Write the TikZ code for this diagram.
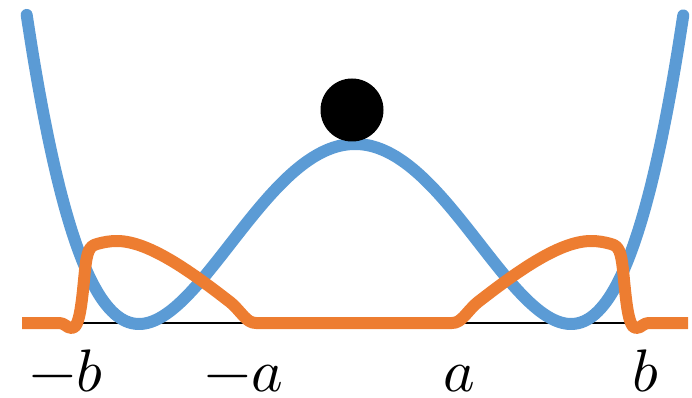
\documentclass[tikz,border=0pt]{standalone}
\usepackage{tikz}
\usepackage{amsmath}
\usepackage{unicode-math}
\definecolor{wellblue}{HTML}{5B9BD5}
\definecolor{densorange}{HTML}{ED7D31}

\begin{document}
\begin{tikzpicture}[x=1pt,y=-1pt,
        potential/.style={wellblue,line width=12pt,line cap=round},
        density/.style={densorange,line width=12pt,line join=round},
        ball/.style={circle,fill=black,minimum size=63pt,inner sep=0pt},
        tick label/.style={anchor=base,inner sep=0pt,font=\fontsize{60}{60}\selectfont}]
        \useasboundingbox (0,0) rectangle (692,398);
        \draw[line width=2pt] (70,323) -- (638,323);
        \draw[potential] plot[domain=-1.52:1.52,samples=120,smooth] ({355+216*\x},{324-180*(\x*\x-1)^2});
        \draw[density] (22,323) -- (58,323) .. controls (66,323) and (66,328) .. (72,328)
            .. controls (80,328) and (82,300) .. (85,270) .. controls (87,252) and (89,246) .. (97,244)
            .. controls (104,242) and (110,241) .. (117,241) .. controls (150,241) and (195,275) .. (230,302)
            .. controls (242,312) and (246,323) .. (256,323) -- (452,323)
            .. controls (462,323) and (466,312) .. (478,302) .. controls (513,275) and (558,241) .. (591,241)
            .. controls (598,241) and (604,242) .. (611,244) .. controls (619,246) and (621,252) .. (623,270)
            .. controls (626,300) and (628,328) .. (636,328) .. controls (642,328) and (642,323) .. (650,323)
            -- (688,323);
        \node[ball] (ball) at (352,110) {};
        \node[tick label] (minus b) at (66,391) {$-b$};
        \node[tick label] (minus a) at (244,391) {$-a$};
        \node[tick label] (plus a) at (459,391) {$a$};
        \node[tick label] (plus b) at (646,391) {$b$};
    \end{tikzpicture}
\end{document}
